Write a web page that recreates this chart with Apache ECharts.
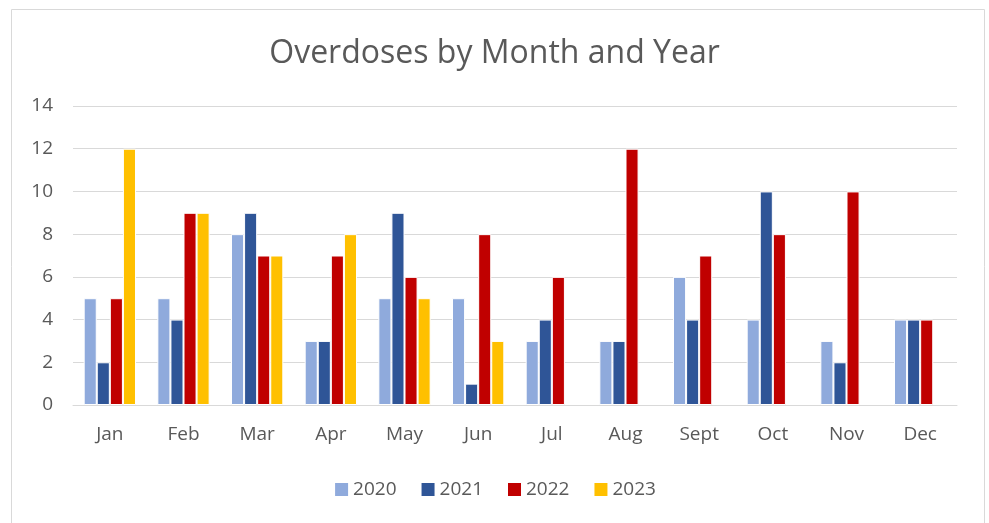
<!DOCTYPE html>
<html><head><meta charset="utf-8">
<script src="https://cdn.jsdelivr.net/npm/echarts@6/dist/echarts.min.js"></script>
<style>html,body{margin:0;padding:0;background:#fff}#c{width:989px;height:523px}</style>
</head><body><div id="c"></div>
<script>
const months = ['Jan','Feb','Mar','Apr','May','Jun','Jul','Aug','Sept','Oct','Nov','Dec'];
const years = ['2020','2021','2022','2023'];
const v2020 = [5,5,8,3,5,5,3,3,6,4,3,4];
const v2021 = [2,4,9,3,9,1,4,3,4,10,2,4];
const v2022 = [5,9,7,7,6,8,6,12,7,8,10,4];
const v2023 = [12,9,7,8,5,3,null,null,null,null,null,null];
const colors = ['#8faadc','#2f5597','#c00000','#ffc000'];
const F = 'Open Sans, Liberation Sans, sans-serif';
const chart = echarts.init(document.getElementById('c'));
const vals = [v2020,v2021,v2022,v2023];
chart.setOption({
  animation:false,
  graphic:[{type:'rect',shape:{x:11.5,y:9.5,width:973,height:530},style:{fill:'none',stroke:'#d9d9d9',lineWidth:1}}],
  title:{text:'Overdoses by Month and Year',left:'center',top:33,textStyle:{fontFamily:F,fontSize:32,fontWeight:'normal',color:'#595959'}},
  legend:{top:475,left:'center',itemWidth:15,itemHeight:15,itemGap:23,icon:'rect',textStyle:{fontFamily:F,fontSize:19,color:'#595959',padding:[0,0,0,-1]},data:years},
  grid:{left:73,right:32,top:106,bottom:118,containLabel:false},
  xAxis:{type:'category',data:months,axisLine:{lineStyle:{color:'#d9d9d9',width:1}},axisTick:{show:false},
    axisLabel:{fontFamily:F,fontSize:19,color:'#595959',margin:20}},
  yAxis:{type:'value',min:0,max:14,interval:2,axisLine:{show:false},axisTick:{show:false},
    splitLine:{lineStyle:{color:'#d9d9d9',width:1}},
    axisLabel:{fontFamily:F,fontSize:19,color:'#595959',margin:20}},
  series: years.map((y,i)=>({name:y,type:'bar',data:vals[i],barGap:'0%',barCategoryGap:'29%',
    itemStyle:{color:colors[i],borderColor:'#fff',borderWidth:1}}))
});
</script></body></html>
